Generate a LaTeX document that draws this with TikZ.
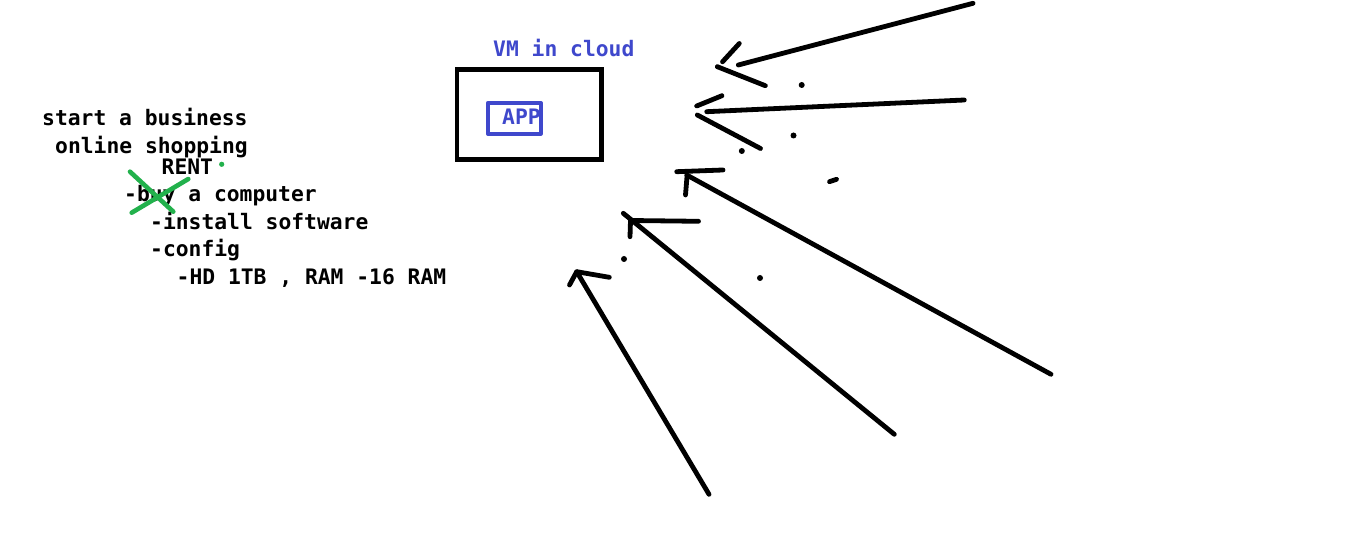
\documentclass[tikz,border=0pt]{standalone}
\usepackage{fontspec}
\setmonofont{DejaVu Sans Mono}
\definecolor{paintblue}{RGB}{63,72,204}
\definecolor{paintgreen}{RGB}{34,177,76}
\tikzset{
  note/.style={anchor=base west,inner sep=0pt,font=\ttfamily\bfseries\fontsize{21.4}{25}\selectfont},
  pen/.style={black,line width=4.8bp,line cap=round},
  greenpen/.style={paintgreen,line width=4.6bp,line cap=round},
}
\begin{document}
\begin{tikzpicture}[line join=round]
\useasboundingbox (0bp,0bp) rectangle (1349bp,544bp);
%%
\node (line_0) at (42bp,418bp) [note] {start a business};
  \node (line_1) at (55bp,390.7bp) [note] {online shopping};
  \node (line_2) at (161.5bp,369bp) [note] {RENT};
  \node (line_3) at (124bp,342.3bp) [note] {-buy a computer};
  \node (line_4) at (150bp,314.7bp) [note] {-install software};
  \node (line_5) at (150bp,287.3bp) [note] {-config};
  \node (line_6) at (176.5bp,259bp) [note] {-HD 1TB , RAM -16 RAM};
%
\draw [greenpen] (130bp,372.3bp) -- (173.3bp,332.3bp);
  \draw [greenpen] (131.7bp,331.3bp) -- (188.3bp,365bp);
  \fill [paintgreen] (221.7bp,379.7bp) circle (2.6bp);
%%
\node (vm_label) at (493bp,487.3bp) [note,text=paintblue] {VM in cloud};
  \draw [pen,line cap=butt,line join=miter] (457bp,474.2bp) rectangle (601.5bp,384.8bp);
  \node (app) at (502bp,419bp) [note,text=paintblue] {APP};
  \draw [paintblue,line width=4.3bp] (488bp,441bp) rectangle (540.7bp,410.3bp);
%%
\coordinate (tail_1) at (973bp,540.7bp);
  \coordinate (tip_1) at (738.3bp,479bp);
  \coordinate (tail_2) at (964.3bp,444bp);
  \coordinate (tip_2) at (706.7bp,432.3bp);
  \coordinate (tail_3) at (1051bp,169.7bp);
  \coordinate (tip_3) at (686.7bp,369bp);
  \coordinate (tail_4) at (894.3bp,109.7bp);
  \coordinate (tip_4) at (623.3bp,330.7bp);
  \coordinate (tail_5) at (709bp,49.7bp);
  \coordinate (tip_5) at (576.7bp,272.3bp);
  \draw [pen] (tail_1) -- (tip_1);
  \draw [pen] (722.5bp,482.2bp) -- (739.3bp,500.5bp);
  \draw [pen] (717.3bp,477.3bp) -- (765.3bp,458.3bp);
  \draw [pen] (tail_2) -- (tip_2);
  \draw [pen] (696.7bp,438bp) -- (722bp,448.3bp);
  \draw [pen] (697.3bp,429bp) -- (760.5bp,395.5bp);
  \draw [pen] (tail_3) -- (tip_3);
  \draw [pen] (676.7bp,372.3bp) -- (723bp,374bp);
  \draw [pen] (685.5bp,349bp) -- (687bp,367.3bp);
  \draw [pen] (tail_4) -- (tip_4);
  \draw [pen] (630bp,307.3bp) -- (630.5bp,323.5bp) -- (698.5bp,322.7bp);
  \draw [pen] (tail_5) -- (tip_5);
  \draw [pen] (569.5bp,259bp) -- (576.7bp,272.3bp) -- (609.3bp,266.7bp);
%
\fill (801.7bp,459bp) circle (3bp);
  \fill (793.5bp,408.5bp) circle (3bp);
  \fill (741.8bp,393bp) circle (3bp);
  \draw [pen] (829.5bp,362.3bp) -- (836.5bp,364.7bp);
  \fill (624bp,285bp) circle (3bp);
  \fill (760bp,266bp) circle (3bp);
%
\end{tikzpicture}
\end{document}
